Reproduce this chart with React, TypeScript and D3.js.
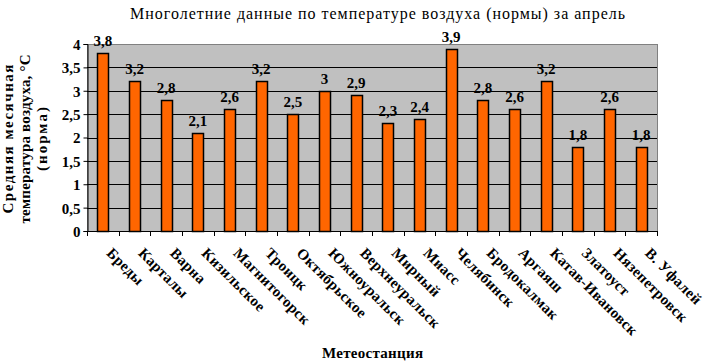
import React, { useEffect, useRef } from 'react';
import * as d3 from 'd3';

const stations = [
  'Бреды', 'Карталы', 'Варна', 'Кизильское', 'Магнитогорск', 'Троицк',
  'Октябрьское', 'Южноуральск', 'Верхнеуральск', 'Мирный', 'Миасс', 'Челябинск',
  'Бродокалмак', 'Аргаяш', 'Катав-Ивановск', 'Златоуст', 'Нязепетровск', 'В. Уфалей',
];
const temps = [3.8, 3.2, 2.8, 2.1, 2.6, 3.2, 2.5, 3, 2.9, 2.3, 2.4, 3.9, 2.8, 2.6, 3.2, 1.8, 2.6, 1.8];
const yTicks = [0, 0.5, 1, 1.5, 2, 2.5, 3, 3.5, 4];
const yTitle = ['Средняя месячная', 'температура воздуха, °C', '(норма)'];
const yTitleLen = [149, 169, 64];

const fmt = (v: number) => String(v).replace('.', ',');
const FONT = '"Liberation Serif", "Times New Roman", serif';

const App: React.FC = () => {
  const svgRef = useRef<SVGSVGElement>(null);
  const width = 703;
  const height = 362;

  useEffect(() => {
    if (!svgRef.current) return;
    const margin = { top: 44, right: 46, bottom: 131, left: 87 };
    const svg = d3.select(svgRef.current);
    svg.selectAll('*').remove();

    const x = d3.scaleBand<string>()
      .domain(stations)
      .range([margin.left, width - margin.right]);
    const y = d3.scaleLinear()
      .domain([0, 4])
      .range([height - margin.bottom, margin.top]);

    const g = svg.append('g').attr('font-family', FONT);

    // plot area
    g.append('rect')
      .attr('x', margin.left + 0.5)
      .attr('y', margin.top + 0.5)
      .attr('width', width - margin.left - margin.right)
      .attr('height', height - margin.top - margin.bottom)
      .attr('fill', '#c0c0c0')
      .attr('stroke', '#808080');

    // gridlines
    g.append('g')
      .selectAll('line')
      .data(yTicks.filter(t => t > 0 && t < 4))
      .enter().append('line')
      .attr('x1', margin.left)
      .attr('x2', width - margin.right)
      .attr('y1', d => Math.round(y(d)) + 0.5)
      .attr('y2', d => Math.round(y(d)) + 0.5)
      .attr('stroke', '#000');

    // bars
    const bw = 11;
    g.append('g')
      .selectAll('rect')
      .data(temps)
      .enter().append('rect')
      .attr('x', (d, i) => Math.round(x(stations[i])! + x.bandwidth() / 2 - bw / 2) + 0.5)
      .attr('y', d => Math.round(y(d)) + 0.5)
      .attr('width', bw)
      .attr('height', d => Math.round(y(0)) - Math.round(y(d)))
      .attr('fill', '#ff6600')
      .attr('stroke', '#000')
      .attr('stroke-width', 1.5);

    // value labels
    g.append('g')
      .selectAll('text')
      .data(temps)
      .enter().append('text')
      .attr('x', (d, i) => x(stations[i])! + x.bandwidth() / 2)
      .attr('y', d => y(d) - 7)
      .attr('text-anchor', 'middle')
      .attr('font-size', '15px')
      .attr('font-weight', 'bold')
      .text(d => fmt(d));

    // y axis
    g.append('g')
      .attr('transform', `translate(${margin.left + 0.5},0)`)
      .call(d3.axisLeft(y).tickValues(yTicks).tickSize(4).tickFormat(d => fmt(+d)))
      .call(a => a.select('.domain').attr('stroke', '#000'))
      .call(a => a.selectAll('.tick line').attr('stroke', '#000'))
      .call(a => a.selectAll('text')
        .attr('fill', '#000')
        .attr('font-family', FONT)
        .attr('font-size', '15px')
        .attr('font-weight', 'bold')
        .attr('x', -7)
        .attr('dy', '0.36em'));

    // x axis
    const xAxis = g.append('g')
      .attr('transform', `translate(0,${Math.round(y(0))})`);
    xAxis.append('line')
      .attr('x1', margin.left).attr('x2', width - margin.right + 1)
      .attr('y1', 0.5).attr('y2', 0.5)
      .attr('stroke', '#000');
    const edges = stations.map(s => x(s)!).concat([width - margin.right]);
    xAxis.selectAll('line.tick')
      .data(edges)
      .enter().append('line')
      .attr('class', 'tick')
      .attr('x1', d => Math.round(d) + 0.5).attr('x2', d => Math.round(d) + 0.5)
      .attr('y1', 0).attr('y2', 5)
      .attr('stroke', '#000');
    xAxis.selectAll('text')
      .data(stations)
      .enter().append('text')
      .attr('transform', d => `translate(${x(d)! + x.bandwidth() / 2 + 3},23) rotate(45)`)
      .attr('font-size', '15px')
      .attr('font-weight', 'bold')
      .attr('letter-spacing', '0.3px')
      .text(d => d);

    // titles
    g.append('text')
      .attr('x', 130)
      .attr('y', 19)
      .attr('font-size', '16px')
      .attr('textLength', 495)
      .attr('lengthAdjust', 'spacing')
      .text('Многолетние данные по температуре воздуха (нормы) за апрель');

    g.append('text')
      .attr('x', 322)
      .attr('y', 358)
      .attr('font-size', '15px')
      .attr('font-weight', 'bold')
      .attr('textLength', 101)
      .attr('lengthAdjust', 'spacing')
      .text('Метеостанция');

    const yt = g.append('g')
      .attr('transform', 'translate(0,139) rotate(-90)')
      .attr('font-size', '15px')
      .attr('font-weight', 'bold');
    yTitle.forEach((line, i) => {
      yt.append('text')
        .attr('x', -yTitleLen[i] / 2)
        .attr('y', 13 + i * 17)
        .attr('textLength', yTitleLen[i])
        .attr('lengthAdjust', 'spacing')
        .text(line);
    });
  }, []);

  return (
    <svg
      ref={svgRef}
      width={width}
      height={height}
      style={{ position: 'absolute', left: 0, top: 0, background: '#fff' }}
    />
  );
};

export default App;
